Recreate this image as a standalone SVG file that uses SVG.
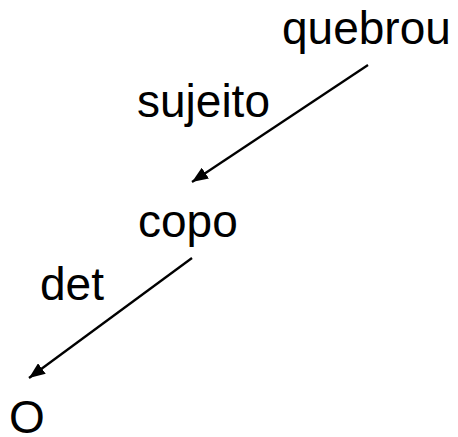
<svg xmlns="http://www.w3.org/2000/svg" width="458" height="437" viewBox="0 0 458 437">
<style>
text{font-family:"Liberation Sans",Arial,sans-serif;font-size:46px;fill:#000}
.c{stroke:#000;stroke-width:2.3;fill:none}
</style>
<defs>
<marker id="ah" viewBox="0 0 16 13" refX="16" refY="6.5" markerWidth="16" markerHeight="13" markerUnits="userSpaceOnUse" orient="auto">
<path d="M0,0 L16,6.5 L0,13 Z" fill="#000"/>
</marker>
</defs>
<rect width="458" height="437" fill="#fff"/>
<g id="connectors">
<line class="c" x1="368" y1="65" x2="192" y2="182" marker-end="url(#ah)"/>
<line class="c" x1="192" y1="258" x2="29" y2="378" marker-end="url(#ah)"/>
</g>
<g id="quebrou"><text x="282" y="44">quebrou</text></g>
<g id="label-sujeito"><text x="137" y="117">sujeito</text></g>
<g id="copo"><text x="138" y="237">copo</text></g>
<g id="label-det"><text x="40" y="300">det</text></g>
<g id="O"><text x="9" y="433">O</text></g>
</svg>
